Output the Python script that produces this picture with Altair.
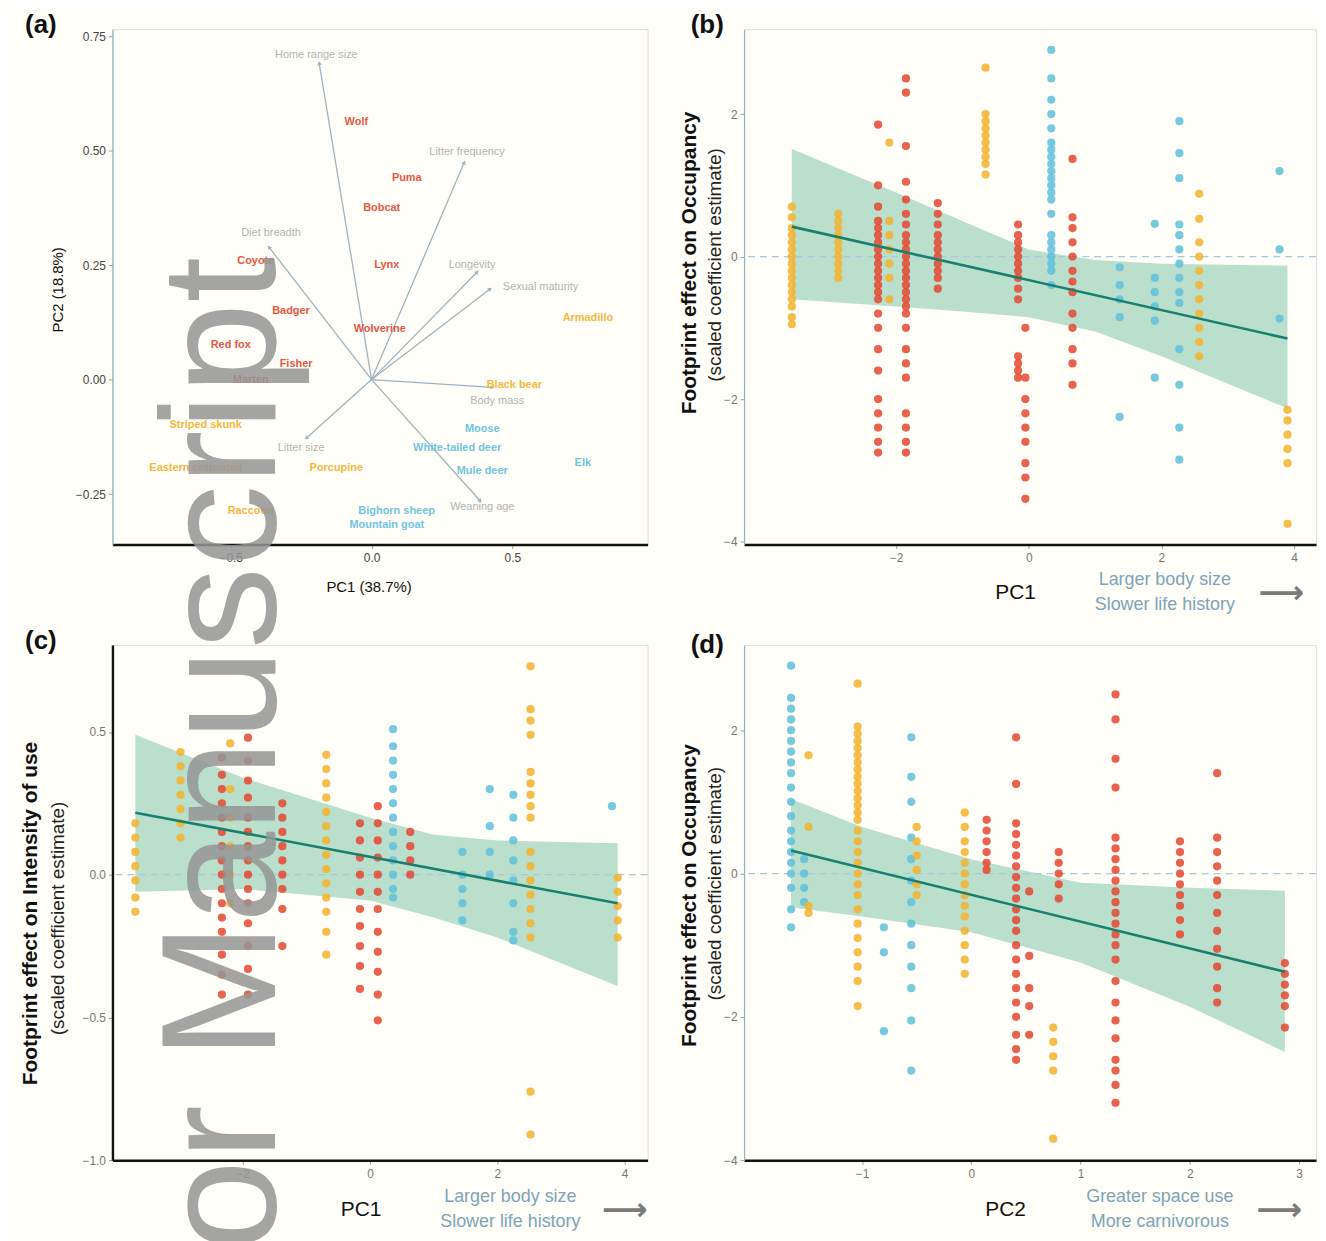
import altair as alt
import pandas as pd
import numpy as np

RED = "#e4472f"
YEL = "#f3b12b"
BLU = "#5fbfdc"
BAND = "#8ccbb0"
LINEC = "#18806c"
FONT = "Liberation Sans"

# ---------------- panel (a): PCA biplot ----------------
trait_names = ["Home range size", "Litter frequency", "Diet breadth", "Longevity",
               "Sexual maturity", "Body mass", "Litter size", "Weaning age"]
trait_x = [-0.186, 0.329, -0.364, 0.375, 0.421, 0.43, -0.232, 0.386]
trait_y = [0.691, 0.474, 0.289, 0.235, 0.198, -0.017, -0.128, -0.265]
trait_lx = [-0.196, 0.339, -0.357, 0.357, 0.60, 0.446, -0.25, 0.393]
trait_ly = [0.709, 0.496, 0.32, 0.25, 0.202, -0.046, -0.15, -0.278]

sp_names = ["Wolf", "Puma", "Bobcat", "Lynx", "Coyote", "Badger", "Wolverine", "Red fox",
            "Fisher", "Marten",
            "Black bear", "Armadillo", "Striped skunk", "Eastern cottontail", "Porcupine", "Raccoon",
            "Moose", "White-tailed deer", "Mule deer", "Elk", "Bighorn sheep", "Mountain goat"]
sp_x = [-0.054, 0.125, 0.036, 0.054, -0.411, -0.286, 0.029, -0.50, -0.268, -0.429,
        0.507, 0.768, -0.589, -0.625, -0.125, -0.429,
        0.393, 0.304, 0.393, 0.75, 0.089, 0.054]
sp_y = [0.563, 0.441, 0.374, 0.25, 0.259, 0.15, 0.111, 0.076, 0.035, -0.002,
        -0.011, 0.135, -0.10, -0.193, -0.193, -0.287,
        -0.107, -0.15, -0.20, -0.183, -0.287, -0.317]
sp_grp = ["r"] * 10 + ["y"] * 6 + ["b"] * 6

# ---------------- panel (b): PC1 vs occupancy ----------------
b_x = [-3.57, -2.87, -2.27, -2.10, -1.85, -1.37, -0.65, -0.16, -0.05, 0.34, 0.66, 1.37, 1.90, 2.27, 2.57, 3.78, 3.90]
b_g = ["y", "y", "r", "y", "r", "r", "y", "r", "r", "b", "r", "b", "b", "b", "y", "b", "y"]
b_vals = [
    [0.7, 0.55, 0.4, 0.3, 0.2, 0.1, 0.0, -0.1, -0.2, -0.3, -0.4, -0.5, -0.6, -0.7, -0.85, -0.95],
    [0.6, 0.5, 0.4, 0.3, 0.2, 0.1, 0.0, -0.1, -0.2, -0.3],
    [1.85, 1.0, 0.7, 0.5, 0.4, 0.3, 0.2, 0.1, 0.0, -0.1, -0.2, -0.3, -0.4, -0.5, -0.6, -0.8, -1.0,
     -1.3, -1.6, -2.0, -2.2, -2.4, -2.6, -2.75],
    [1.6, 0.5, 0.3, 0.1, -0.1, -0.3, -0.6],
    [2.5, 2.3, 1.55, 1.05, 0.8, 0.6, 0.45, 0.3, 0.2, 0.1, 0.0, -0.1, -0.2, -0.3, -0.4, -0.5, -0.6,
     -0.7, -0.8, -1.0, -1.3, -1.5, -1.7, -2.2, -2.4, -2.6, -2.75],
    [0.75, 0.6, 0.45, 0.3, 0.2, 0.1, 0.0, -0.1, -0.2, -0.3, -0.45],
    [2.65, 2.0, 1.9, 1.8, 1.7, 1.6, 1.5, 1.4, 1.3, 1.15],
    [0.45, 0.3, 0.2, 0.1, 0.0, -0.1, -0.2, -0.3, -0.45, -0.6, -1.4, -1.5, -1.6, -1.7],
    [-1.0, -1.7, -2.0, -2.2, -2.4, -2.6, -2.9, -3.1, -3.4],
    [2.9, 2.5, 2.2, 2.0, 1.8, 1.6, 1.5, 1.4, 1.3, 1.2, 1.1, 1.0, 0.9, 0.8, 0.6, 0.3, 0.2, 0.1,
     0.0, -0.1, -0.2, -0.4],
    [1.37, 0.55, 0.4, 0.2, 0.0, -0.2, -0.35, -0.5, -0.8, -1.0, -1.3, -1.5, -1.8],
    [-0.15, -0.4, -0.6, -0.85, -2.25],
    [0.46, -0.3, -0.5, -0.7, -0.9, -1.7],
    [1.9, 1.45, 1.1, 0.45, 0.3, 0.1, -0.1, -0.3, -0.5, -0.65, -1.3, -1.8, -2.4, -2.85],
    [0.88, 0.53, 0.2, 0.0, -0.2, -0.4, -0.6, -0.8, -1.0, -1.2, -1.4],
    [1.2, 0.1, -0.87],
    [-2.15, -2.3, -2.5, -2.7, -2.9, -3.75],
]
b_band_x = [-3.57, -2.0, -1.0, 0.0, 1.0, 2.0, 3.9]
b_band_lo = [-0.6, -0.7, -0.77, -0.85, -1.05, -1.4, -2.13]
b_band_hi = [1.51, 0.9, 0.5, 0.1, -0.05, -0.1, -0.13]
b_line_x = [-3.57, 3.9]
b_line_y = [0.42, -1.15]

# ---------------- panel (c): PC1 vs intensity of use ----------------
c_x = [-3.69, -2.98, -2.33, -2.20, -1.92, -1.38, -0.69, -0.16, 0.12, 0.36, 0.63, 1.45, 1.88, 2.25, 2.52, 3.80, 3.89]
c_g = ["y", "y", "r", "y", "r", "r", "y", "r", "r", "b", "r", "b", "b", "b", "y", "b", "y"]
c_vals = [
    [0.18, 0.13, 0.08, 0.03, -0.02, -0.08, -0.13],
    [0.43, 0.38, 0.33, 0.28, 0.23, 0.18, 0.13],
    [0.41, 0.35, 0.3, 0.25, 0.2, 0.15, 0.1, 0.05, 0.0, -0.05, -0.1, -0.15, -0.2, -0.28, -0.35, -0.42],
    [0.46, 0.3, 0.2, 0.1, 0.0, -0.1],
    [0.48, 0.4, 0.33, 0.27, 0.2, 0.15, 0.1, 0.05, 0.0, -0.05, -0.1, -0.17, -0.25, -0.33, -0.42],
    [0.25, 0.2, 0.15, 0.1, 0.05, 0.0, -0.05, -0.12, -0.25],
    [0.42, 0.37, 0.32, 0.27, 0.22, 0.17, 0.12, 0.07, 0.02, -0.03, -0.08, -0.13, -0.2, -0.28],
    [0.18, 0.12, 0.06, 0.0, -0.06, -0.12, -0.18, -0.25, -0.32, -0.4],
    [0.24, 0.18, 0.12, 0.06, 0.0, -0.06, -0.12, -0.2, -0.27, -0.34, -0.42, -0.51],
    [0.51, 0.45, 0.4, 0.35, 0.3, 0.25, 0.2, 0.15, 0.1, 0.05, 0.0, -0.05, -0.08],
    [0.15, 0.1, 0.05, 0.0],
    [0.08, 0.0, -0.05, -0.1, -0.16],
    [0.3, 0.17, 0.08, 0.0],
    [0.28, 0.2, 0.12, 0.05, -0.02, -0.1, -0.2, -0.23],
    [0.73, 0.58, 0.54, 0.49, 0.36, 0.32, 0.28, 0.24, 0.2, 0.08, 0.03, -0.02, -0.07, -0.12, -0.17,
     -0.22, -0.76, -0.91],
    [0.24],
    [-0.01, -0.06, -0.11, -0.16, -0.22],
]
c_band_x = [-3.69, -2.0, 0.0, 1.0, 2.0, 3.89]
c_band_lo = [-0.06, -0.05, -0.09, -0.15, -0.22, -0.39]
c_band_hi = [0.49, 0.34, 0.2, 0.14, 0.12, 0.11]
c_line_x = [-3.69, 3.89]
c_line_y = [0.217, -0.10]

# ---------------- panel (d): PC2 vs occupancy ----------------
d_x = [-1.65, -1.53, -1.49, -1.04, -0.80, -0.55, -0.50, -0.06, 0.14, 0.41, 0.53, 0.75, 0.80, 1.32, 1.91, 2.25, 2.87]
d_g = ["b", "b", "y", "y", "b", "b", "y", "y", "r", "r", "r", "y", "r", "r", "r", "r", "r"]
d_vals = [
    [2.9, 2.45, 2.3, 2.15, 2.0, 1.85, 1.7, 1.55, 1.4, 1.2, 1.0, 0.8, 0.6, 0.45, 0.3, 0.15, 0.0,
     -0.2, -0.5, -0.75],
    [0.2, 0.0, -0.2, -0.4],
    [1.65, 0.65, -0.45, -0.55],
    [2.65, 2.05, 1.95, 1.85, 1.75, 1.65, 1.55, 1.45, 1.35, 1.25, 1.15, 1.05, 0.95, 0.85, 0.75,
     0.6, 0.45, 0.3, 0.15, 0.0, -0.15, -0.3, -0.5, -0.7, -0.9, -1.1, -1.3, -1.5, -1.85],
    [-0.75, -1.1, -2.2],
    [1.9, 1.35, 1.0, 0.5, 0.2, -0.1, -0.4, -0.7, -1.0, -1.3, -1.6, -2.05, -2.75],
    [0.65, 0.45, 0.25, 0.05, -0.15, -0.3],
    [0.85, 0.65, 0.45, 0.3, 0.15, 0.0, -0.15, -0.3, -0.45, -0.6, -0.8, -1.0, -1.2, -1.4],
    [0.75, 0.6, 0.45, 0.3, 0.15, 0.05],
    [1.9, 1.25, 0.7, 0.55, 0.4, 0.25, 0.1, -0.05, -0.2, -0.35, -0.5, -0.65, -0.8, -1.0, -1.2,
     -1.4, -1.6, -1.8, -2.0, -2.25, -2.45, -2.6],
    [-0.25, -1.15, -1.6, -1.85, -2.25],
    [-2.15, -2.35, -2.55, -2.75, -3.7],
    [0.3, 0.15, 0.0, -0.15, -0.35],
    [2.5, 2.15, 1.6, 1.2, 0.5, 0.35, 0.2, 0.05, -0.1, -0.25, -0.4, -0.55, -0.7, -0.85, -1.0, -1.2,
     -1.5, -1.8, -2.05, -2.3, -2.6, -2.75, -2.95, -3.2],
    [0.45, 0.3, 0.15, 0.0, -0.15, -0.3, -0.45, -0.65, -0.85],
    [1.4, 0.5, 0.3, 0.1, -0.1, -0.3, -0.55, -0.8, -1.05, -1.3, -1.6, -1.8],
    [-1.25, -1.4, -1.55, -1.7, -1.85, -2.15],
]
d_band_x = [-1.65, -1.0, 0.0, 1.0, 2.0, 2.87]
d_band_lo = [-0.47, -0.6, -0.82, -1.24, -1.86, -2.49]
d_band_hi = [1.04, 0.65, 0.2, -0.13, -0.2, -0.24]
d_line_x = [-1.65, 2.87]
d_line_y = [0.32, -1.37]

color_scale = alt.Scale(domain=["r", "y", "b"], range=[RED, YEL, BLU])

H = 518  # plot height of every panel


def txt(text, x, y, size, color="#222", weight="normal", angle=None, align="center",
        baseline="middle", opacity=None, font=FONT):
    kw = dict(text=text, fontSize=size, color=color, fontWeight=weight, align=align,
              baseline=baseline, font=font)
    if angle is not None:
        kw["angle"] = angle
    if opacity is not None:
        kw["opacity"] = opacity
    return alt.Chart(pd.DataFrame({"k": [0]})).mark_text(**kw).encode(
        x=alt.value(x), y=alt.value(y))


def pts_frame(xs, grps, vals):
    rows = []
    for x, g, col in zip(xs, grps, vals):
        for v in col:
            rows.append({"x": x, "y": v, "g": g})
    return pd.DataFrame(rows)


def effect_panel(xs, grps, vals, bx, blo, bhi, lx, ly, xdom, ydom, xticks, yticks, yfmt,
                 w, h, ydom_color, ydom_width, extras):
    X = alt.X("x:Q", scale=alt.Scale(domain=xdom, nice=False, zero=False),
              axis=alt.Axis(values=xticks, format="d", title=None, domainColor="#111",
                            domainWidth=2.6, tickColor="#999", tickSize=4, labelFontSize=12,
                            labelColor="#777", grid=False, labelPadding=4))
    Y = alt.Y("y:Q", scale=alt.Scale(domain=ydom, nice=False, zero=False),
              axis=alt.Axis(values=yticks, format=yfmt, title=None, domainColor=ydom_color,
                            domainWidth=ydom_width, tickColor="#999", tickSize=4,
                            labelFontSize=12, labelColor="#777", grid=False, labelPadding=3))
    band = alt.Chart(pd.DataFrame({"x": bx, "y": blo, "y2": bhi})).mark_area(
        color=BAND, opacity=0.6).encode(x=X, y=Y, y2="y2:Q")
    zero = alt.Chart(pd.DataFrame({"y": [0.0]})).mark_rule(
        color="#a9c8da", strokeDash=[7, 5], strokeWidth=1.3).encode(y="y:Q")
    pts = alt.Chart(pts_frame(xs, grps, vals)).mark_circle(size=68, opacity=0.85).encode(
        x="x:Q", y="y:Q", color=alt.Color("g:N", scale=color_scale, legend=None))
    line = alt.Chart(pd.DataFrame({"x": lx, "y": ly})).mark_line(
        color=LINEC, strokeWidth=2.6).encode(x="x:Q", y="y:Q")
    return alt.layer(band, zero, pts, line, *extras).properties(width=w, height=h)


# ----- panel (a) -----
A_W, A_H = 538, H
SX = A_W / 1.90
SY = A_H / 1.125
tr = pd.DataFrame({"name": trait_names, "x": trait_x, "y": trait_y, "lx": trait_lx,
                   "ly": trait_ly, "x0": 0.0, "y0": 0.0})
tr["ang"] = (np.degrees(np.arctan2(tr["x"] * SX, tr["y"] * SY)) + 360) % 360
sp = pd.DataFrame({"name": sp_names, "x": sp_x, "y": sp_y, "g": sp_grp})

AX = alt.X("x:Q", scale=alt.Scale(domain=[-0.92, 0.98], nice=False, zero=False),
           axis=alt.Axis(values=[-0.5, 0.0, 0.5], format=".1f", title=None, domainColor="#111",
                         domainWidth=2.6, tickColor="#999", tickSize=4, labelFontSize=12,
                         labelColor="#444", grid=False, labelPadding=4))
AY = alt.Y("y:Q", scale=alt.Scale(domain=[-0.36, 0.765], nice=False, zero=False),
           axis=alt.Axis(values=[-0.25, 0.0, 0.25, 0.5, 0.75], format=".2f", title=None,
                         domainColor="#8fb3c8", domainWidth=1.2, tickColor="#999", tickSize=4,
                         labelFontSize=12, labelColor="#444", grid=False, labelPadding=3))
vec = alt.Chart(tr).mark_rule(color="#9fb4c0", strokeWidth=1.3).encode(
    x=AX, y=AY, x2="x0:Q", y2="y0:Q")
heads = alt.Chart(tr).mark_point(shape="triangle-up", filled=True, size=22, color="#9fb4c0",
                                 opacity=1).encode(
    x="x:Q", y="y:Q", angle=alt.Angle("ang:Q", scale=None))
tlab = alt.Chart(tr).mark_text(fontSize=11, color="#b3b3b3", font=FONT).encode(
    x=alt.X("lx:Q"), y=alt.Y("ly:Q"), text="name:N")
slab = alt.Chart(sp).mark_text(fontSize=11, fontWeight="bold", font=FONT, opacity=0.9).encode(
    x="x:Q", y="y:Q", text="name:N",
    color=alt.Color("g:N", scale=color_scale, legend=None))
panel_a = alt.layer(
    vec, heads, tlab, slab,
    txt("(a)", -72, -4, 26, color="#111", weight="bold"),
    txt("PC1 (38.7%)", 258, H + 43, 15, color="#111"),
    txt("PC2 (18.8%)", -55, 262, 15, color="#111", angle=270),
).properties(width=A_W, height=A_H)

ARROW_C = "#7b7b7b"
ANN_C = "#7ea3b6"

panel_b = effect_panel(
    b_x, b_g, b_vals, b_band_x, b_band_lo, b_band_hi, b_line_x, b_line_y,
    [-4.29, 4.33], [-4.04, 3.19], [-2, 0, 2, 4], [-4, -2, 0, 2], "d", 575, H,
    "#8fb3c8", 1.2,
    [txt("(b)", -37, -4, 26, color="#111", weight="bold"),
     txt("Footprint effect on Occupancy", -54, 235, 21, color="#111", weight="bold", angle=270),
     txt("(scaled coefficient estimate)", -29, 237, 19, color="#222", angle=270),
     txt("PC1", 273, H + 49, 21, color="#111"),
     txt("Larger body size", 423, H + 36, 18, color=ANN_C),
     txt("Slower life history", 423, H + 61, 18, color=ANN_C),
     txt("⟶", 540, H + 49, 32, color=ARROW_C, weight="bold", font="DejaVu Sans")])

panel_c = effect_panel(
    c_x, c_g, c_vals, c_band_x, c_band_lo, c_band_hi, c_line_x, c_line_y,
    [-4.05, 4.36], [-1.0, 0.805], [-2, 0, 2, 4], [-1.0, -0.5, 0.0, 0.5], ".1f", 538, H,
    "#111", 2.4,
    [txt("(c)", -72, -4, 26, color="#111", weight="bold"),
     txt("Footprint effect on Intensity of use", -82, 270, 21, color="#111", weight="bold",
         angle=270),
     txt("(scaled coefficient estimate)", -55, 275, 19, color="#222", angle=270),
     txt("PC1", 250, H + 50, 21, color="#111"),
     txt("Larger body size", 400, H + 37, 18, color=ANN_C),
     txt("Slower life history", 400, H + 62, 18, color=ANN_C),
     txt("⟶", 515, H + 50, 32, color=ARROW_C, weight="bold", font="DejaVu Sans"),
     txt("or Manuscript", 163, -390, 165, color="#959595", angle=270, align="right",
         baseline="alphabetic", opacity=0.85)])

panel_d = effect_panel(
    d_x, d_g, d_vals, d_band_x, d_band_lo, d_band_hi, d_line_x, d_line_y,
    [-2.08, 3.155], [-4.0, 3.19], [-1, 0, 1, 2, 3], [-4, -2, 0, 2], "d", 575, H,
    "#8fb3c8", 1.2,
    [txt("(d)", -37, 0, 26, color="#111", weight="bold"),
     txt("Footprint effect on Occupancy", -54, 252, 21, color="#111", weight="bold", angle=270),
     txt("(scaled coefficient estimate)", -29, 240, 19, color="#222", angle=270),
     txt("PC2", 263, H + 50, 21, color="#111"),
     txt("Greater space use", 418, H + 37, 18, color=ANN_C),
     txt("More carnivorous", 418, H + 62, 18, color=ANN_C),
     txt("⟶", 538, H + 50, 32, color=ARROW_C, weight="bold", font="DejaVu Sans")])

chart = alt.concat(
    panel_a, panel_b, panel_c, panel_d, columns=2,
    spacing={"row": 101, "column": 97}, bounds="flush"
).properties(
    background="#fffef8",
    padding={"left": 11, "top": 0, "right": 0, "bottom": 0},
).configure_view(stroke=None).configure(font=FONT)

chart.save("out.html", embed_options={"renderer": "svg", "actions": False})
